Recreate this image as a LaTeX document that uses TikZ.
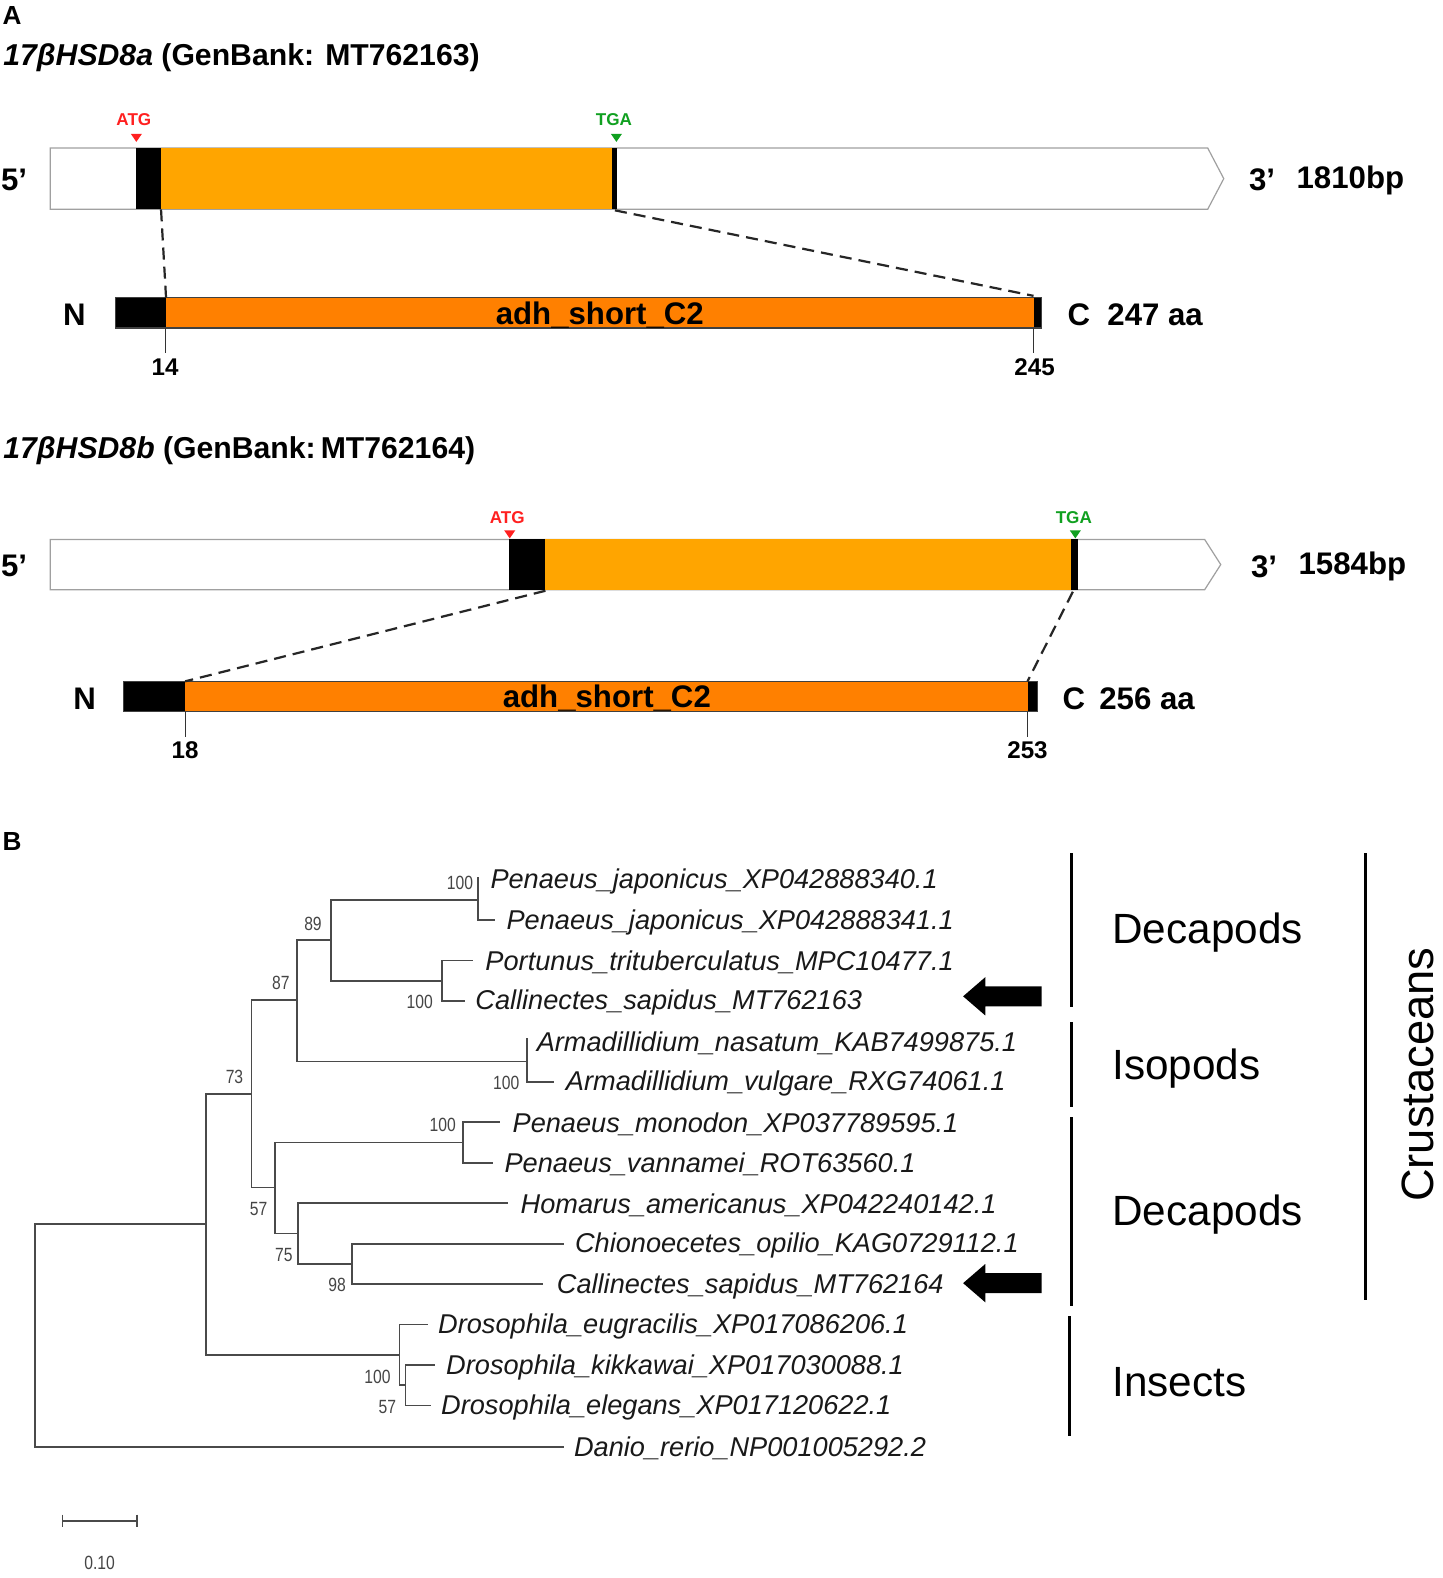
\documentclass[tikz,border=0pt]{standalone}
\usepackage{fontspec}
\setmainfont{Liberation Sans}
\usepackage{graphicx}
\usetikzlibrary{calc}
\definecolor{geneor}{HTML}{FFA500}
\definecolor{protor}{HTML}{FF8000}
\definecolor{treeg}{HTML}{4A4A4A}
\definecolor{bsg}{HTML}{454545}
\definecolor{atgred}{HTML}{FF2020}
\definecolor{tgagreen}{HTML}{10A020}
\definecolor{outl}{HTML}{A0A0A0}
\tikzset{
  title/.style={inner sep=0pt, anchor=west, yshift=-1.2pt, font=\fontsize{15}{18}\selectfont\bfseries},
  big/.style={inner sep=0pt, yshift=-1pt, font=\fontsize{15.5}{18}\selectfont\bfseries},
  ticklab/.style={inner sep=0pt, font=\fontsize{12}{14}\selectfont\bfseries},
  codon/.style={inner sep=0pt, font=\fontsize{8.5}{10}\selectfont\bfseries},
  panel/.style={inner sep=0pt, font=\fontsize{13}{15}\selectfont\bfseries},
  taxon/.style={inner sep=0pt, anchor=west, yshift=-1pt, text=black!90, font=\fontsize{13.5}{16}\selectfont\itshape},
  boot/.style={inner sep=0pt, text=bsg, font=\fontsize{9.5}{11}\selectfont},
  grp/.style={inner sep=0pt, anchor=west, yshift=-1pt, font=\fontsize{21}{24}\selectfont},
  branch/.style={draw=treeg, line width=0.85pt},
  grpbar/.style={line width=1.6pt},
  zoomline/.style={dashed, dash pattern=on 6pt off 3.5pt, line width=1.1pt, black!85},
  tickline/.style={line width=0.5pt, black!80},
  genebox/.style={draw=outl, fill=white, line width=0.6pt},
  protbox/.style={draw=black!75, line width=0.6pt},
}
\newcommand{\bs}[1]{\scalebox{0.82}[1]{#1}}
\begin{document}
\begin{tikzpicture}[x=0.5pt,y=-0.5pt]
\useasboundingbox (0,0) rectangle (1433,1568);
\fill[white] (0,0) rectangle (1433,1568);

% ---------------- Panel A ----------------
\node[panel] (pA) at (12,15) {A};
\node[title] (t1) at (3,55) {\textit{17βHSD8a} (GenBank: MT762163)};

% gene 1
\draw[genebox] (50,147) -- (1200,147) -- (1216,177.5) -- (1200,208) -- (50,208) -- cycle;
\fill[black] (135,147) rectangle (160,208);
\fill[geneor] (160,147) rectangle (608,208);
\fill[black] (608,147) rectangle (613,208);
\coordinate (g1s) at (160,208);
\coordinate (g1e) at (611,209);
\node[codon, text=atgred] (atg1) at (133,119) {ATG};
\fill[atgred] (130,133) -- (141,133) -- (135.5,141) -- cycle;
\node[codon, text=tgagreen] (tga1) at (610,119) {TGA};
\fill[tgagreen] (607,133) -- (618,133) -- (612.5,141) -- cycle;
\node[big] (f5a) at (14,177) {5’};
\node[big] (f3a) at (1254,177) {3’};
\node[big, anchor=west] (bpa) at (1288,177) {1810bp};

% protein 1
\fill[black] (115,296) rectangle (165,326);
\fill[protor] (165,296) rectangle (1027,326);
\fill[black] (1027,296) rectangle (1035,326);
\draw[protbox] (115,296) rectangle (1035,326);
\coordinate (p1s) at (165,296);
\coordinate (p1e) at (1027,294);
\node[big] (dom1) at (596,311) {adh\_short\_C2};
\node[big] (na) at (74,311) {N};
\node[big] (ca) at (1072,311) {C};
\node[big, anchor=west] (aaa) at (1100,311) {247 aa};
\draw[zoomline] (g1s) -- (p1s);
\draw[zoomline] (g1e) -- (p1e);
\draw[tickline] (164,326) -- (164,351);
\draw[tickline] (1027,326) -- (1027,351);
\node[ticklab] (k14) at (164,365) {14};
\node[ticklab] (k245) at (1028,365) {245};

% gene 2
\node[title] (t2) at (3,445) {\textit{17βHSD8b} (GenBank:\,MT762164)};
\draw[genebox] (50,536) -- (1197,536) -- (1213,561) -- (1197,586) -- (50,586) -- cycle;
\fill[black] (506,536) rectangle (542,586);
\fill[geneor] (542,536) rectangle (1064,586);
\fill[black] (1064,536) rectangle (1071,586);
\coordinate (g2s) at (542,587);
\coordinate (g2e) at (1066,588);
\node[codon, text=atgred] (atg2) at (504,514) {ATG};
\fill[atgred] (501,527) -- (512,527) -- (506.5,535) -- cycle;
\node[codon, text=tgagreen] (tga2) at (1067,514) {TGA};
\fill[tgagreen] (1063,527) -- (1074,527) -- (1068.5,535) -- cycle;
\node[big] (f5b) at (14,560) {5’};
\node[big] (f3b) at (1256,561) {3’};
\node[big, anchor=west] (bpb) at (1290,561) {1584bp};

% protein 2
\fill[black] (123,677) rectangle (184,707);
\fill[protor] (184,677) rectangle (1021,707);
\fill[black] (1021,677) rectangle (1031,707);
\draw[protbox] (123,677) rectangle (1031,707);
\coordinate (p2s) at (184,677);
\coordinate (p2e) at (1021,677);
\node[big] (dom2) at (603,692) {adh\_short\_C2};
\node[big] (nb) at (84,692) {N};
\node[big] (cb) at (1067,692) {C};
\node[big, anchor=west] (aab) at (1092,692) {256 aa};
\draw[zoomline] (g2s) -- (p2s);
\draw[zoomline] (g2e) -- (p2e);
\draw[tickline] (184,707) -- (184,732);
\draw[tickline] (1021,707) -- (1021,732);
\node[ticklab] (k18) at (184,745) {18};
\node[ticklab] (k253) at (1021,745) {253};

% ---------------- Panel B ----------------
\node[panel] (pB) at (12,836) {B};

% internal nodes
\coordinate (root) at (35,1327);
\coordinate (nA)   at (205,1216.5);
\coordinate (n73)  at (250,1087);
\coordinate (n87)  at (295,994);
\coordinate (n89)  at (329,934);
\coordinate (nPJ)  at (475,894);
\coordinate (nPT)  at (439,974.5);
\coordinate (nAR)  at (524,1054.9);
\coordinate (n57)  at (273,1180);
\coordinate (nPM)  at (460,1135.3);
\coordinate (n75)  at (296,1225.7);
\coordinate (n98)  at (350,1255.9);
\coordinate (nDR)  at (397,1346.3);
\coordinate (nDS)  at (403,1376.5);

% leaf branch ends
\coordinate (l1)  at (475,871);
\coordinate (l2)  at (492,914.2);
\coordinate (l3)  at (470,954.4);
\coordinate (l4)  at (462,994.6);
\coordinate (l5)  at (524,1031);
\coordinate (l6)  at (550,1075);
\coordinate (l7)  at (497,1115.2);
\coordinate (l8)  at (490,1155.4);
\coordinate (l9)  at (505,1195.6);
\coordinate (l10) at (560,1235.8);
\coordinate (l11) at (540,1276);
\coordinate (l12) at (425,1316.2);
\coordinate (l13) at (432,1356.4);
\coordinate (l14) at (428,1396.6);
\coordinate (l15) at (560,1438);

% branches
\draw[branch] (root) |- (nA);
\draw[branch] (root) |- (l15);
\draw[branch] (nA) |- (n73);
\draw[branch] (nA) |- (nDR);
\draw[branch] (n73) |- (n87);
\draw[branch] (n73) |- (n57);
\draw[branch] (n87) |- (n89);
\draw[branch] (n87) |- (nAR);
\draw[branch] (n89) |- (nPJ);
\draw[branch] (n89) |- (nPT);
\draw[branch] (nPJ) |- (l1);
\draw[branch] (nPJ) |- (l2);
\draw[branch] (nPT) |- (l3);
\draw[branch] (nPT) |- (l4);
\draw[branch] (nAR) |- (l5);
\draw[branch] (nAR) |- (l6);
\draw[branch] (n57) |- (nPM);
\draw[branch] (n57) |- (n75);
\draw[branch] (nPM) |- (l7);
\draw[branch] (nPM) |- (l8);
\draw[branch] (n75) |- (l9);
\draw[branch] (n75) |- (n98);
\draw[branch] (n98) |- (l10);
\draw[branch] (n98) |- (l11);
\draw[branch] (nDR) |- (l12);
\draw[branch] (nDR) |- (nDS);
\draw[branch] (nDS) |- (l13);
\draw[branch] (nDS) |- (l14);

% taxa
\node[taxon] (x1)  at (487,874)    {Penaeus\_japonicus\_XP042888340.1};
\node[taxon] (x2)  at (503,914.2)  {Penaeus\_japonicus\_XP042888341.1};
\node[taxon] (x3)  at (482,954.4)  {Portunus\_trituberculatus\_MPC10477.1};
\node[taxon] (x4)  at (472,994.6)  {Callinectes\_sapidus\_MT762163};
\node[taxon] (x5)  at (533,1034.8) {Armadillidium\_nasatum\_KAB7499875.1};
\node[taxon] (x6)  at (562,1075)   {Armadillidium\_vulgare\_RXG74061.1};
\node[taxon] (x7)  at (509,1115.2) {Penaeus\_monodon\_XP037789595.1};
\node[taxon] (x8)  at (501,1155.4) {Penaeus\_vannamei\_ROT63560.1};
\node[taxon] (x9)  at (517,1195.6) {Homarus\_americanus\_XP042240142.1};
\node[taxon] (x10) at (571,1235.8) {Chionoecetes\_opilio\_KAG0729112.1};
\node[taxon] (x11) at (553,1276)   {Callinectes\_sapidus\_MT762164};
\node[taxon] (x12) at (435,1316.2) {Drosophila\_eugracilis\_XP017086206.1};
\node[taxon] (x13) at (443,1356.4) {Drosophila\_kikkawai\_XP017030088.1};
\node[taxon] (x14) at (438,1396.6) {Drosophila\_elegans\_XP017120622.1};
\node[taxon] (x15) at (570,1437)   {Danio\_rerio\_NP001005292.2};

% bootstrap values
\node[boot] (b1)  at (457,877)  {\bs{100}};
\node[boot] (b2)  at (311,918)  {\bs{89}};
\node[boot] (b3)  at (279,977)  {\bs{87}};
\node[boot] (b4)  at (417,996)  {\bs{100}};
\node[boot] (b5)  at (503,1076) {\bs{100}};
\node[boot] (b6)  at (233,1070) {\bs{73}};
\node[boot] (b7)  at (440,1118) {\bs{100}};
\node[boot] (b8)  at (257,1201) {\bs{57}};
\node[boot] (b9)  at (282,1247) {\bs{75}};
\node[boot] (b10) at (335,1277) {\bs{98}};
\node[boot] (b11) at (375,1368) {\bs{100}};
\node[boot] (b12) at (385,1398) {\bs{57}};

% arrows
\fill[black] (957,990) -- (979,971) -- (979,980) -- (1035,980) -- (1035,1000) -- (979,1000) -- (979,1009) -- cycle;
\fill[black] (957,1275) -- (979,1256) -- (979,1265) -- (1035,1265) -- (1035,1285) -- (979,1285) -- (979,1294) -- cycle;

% group bars and labels
\draw[grpbar] (1065,848) -- (1065,1001);
\draw[grpbar] (1065,1016) -- (1065,1100);
\draw[grpbar] (1065,1110) -- (1065,1298);
\draw[grpbar] (1063,1308) -- (1063,1427);
\draw[grpbar] (1357,848) -- (1357,1292);
\node[grp] (g1) at (1105,925)  {Decapods};
\node[grp] (g2) at (1105,1060) {Isopods};
\node[grp] (g3) at (1105,1205) {Decapods};
\node[grp] (g4) at (1105,1371) {Insects};
\node[inner sep=0pt, rotate=90, font=\fontsize{22.5}{26}\selectfont] (crus) at (1409,1068) {Crustaceans};

% scale bar
\coordinate (sb1) at (62,1511);
\coordinate (sb2) at (136,1511);
\draw[branch] (sb1) -- (sb2);
\draw[branch] ($(sb1)+(0,-6)$) -- ($(sb1)+(0,6)$);
\draw[branch] ($(sb2)+(0,-6)$) -- ($(sb2)+(0,6)$);
\node[boot] (sbl) at (99,1553) {\bs{0.10}};
\end{tikzpicture}
\end{document}
